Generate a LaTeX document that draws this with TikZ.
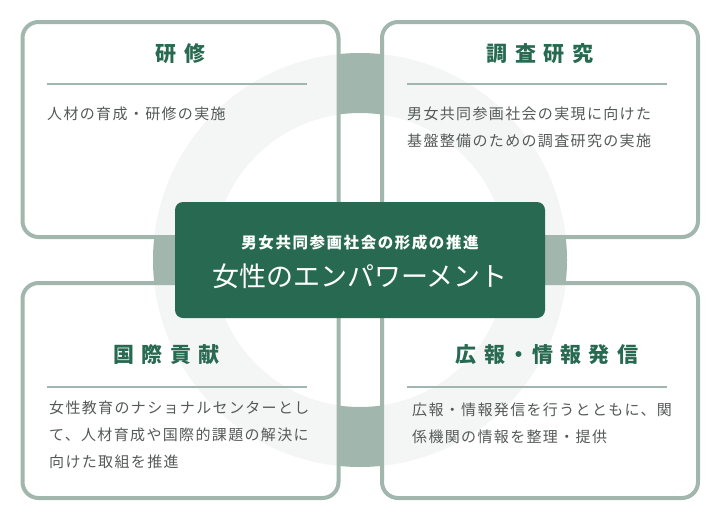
\documentclass[tikz,border=0pt]{standalone}
\usepackage{fontspec}
\setmainfont{Noto Sans CJK JP}
\newfontfamily\titlefont[LetterSpace=35]{Noto Sans CJK JP}
\newfontfamily\bodyfont[LetterSpace=9]{Noto Sans CJK JP}
\newfontfamily\leadfont[LetterSpace=10]{Noto Sans CJK JP}
\definecolor{ring}{HTML}{A1B6AD}
\definecolor{deepgreen}{HTML}{286A51}
\definecolor{bodygray}{HTML}{555A58}
\tikzset{
  panel/.style={draw=ring, line width=4pt, rounded corners=16pt, fill=white, fill opacity=0.88,
    minimum width=316pt, minimum height=215pt, inner sep=0pt},
  paneltitle/.style={text=deepgreen, font=\titlefont\bfseries\fontsize{21}{21}\selectfont},
  paneltext/.style={text=bodygray, font=\bodyfont\fontsize{15}{27}\selectfont, align=left,
    anchor=north west, inner sep=0pt},
  divider/.style={draw=ring, line width=2pt}
}
\begin{document}
\begin{tikzpicture}[x=1pt,y=-1pt]
\useasboundingbox (0,0) rectangle (720,520);
\draw[ring, line width=60pt] (360,260) circle[radius=177pt]; % ring
\node[panel] (kenshu) at (180.5,129.5) {};
\node[panel] (chosa) at (540,129.5) {};
\node[panel] (kokusai) at (180.5,390.5) {};
\node[panel] (koho) at (540,390.5) {};
\node[fill=deepgreen, rounded corners=8pt, minimum width=370pt, minimum height=116pt] (core) at (360,260) {};
\node[text=white, font=\leadfont\bfseries\fontsize{15.5}{15.5}\selectfont] (lead) at ([yshift=17pt]core.center) {男女共同参画社会の形成の推進};
\node[text=white, font=\fontsize{27}{27}\selectfont] (motto) at ([yshift=-16pt]core.center) {女性のエンパワーメント};
% 研修
\node[paneltitle] (kenshutitle) at ([yshift=-34pt]kenshu.north) {研修};
\draw[divider] (47,84) -- (307,84);
\node[paneltext] (kenshutext) at (47,106.5) {人材の育成・研修の実施};
% 調査研究
\node[paneltitle] (chosatitle) at ([yshift=-34pt]chosa.north) {調査研究};
\draw[divider] (407,84) -- (667,84);
\node[paneltext] (chosatext) at (407,106.5) {男女共同参画社会の実現に向けた\\基盤整備のための調査研究の実施};
% 国際貢献
\node[paneltitle] (kokusaititle) at ([xshift=-14pt,yshift=-74pt]kokusai.north) {国際貢献};
\draw[divider] (47,387) -- (307,387);
\node[paneltext] (kokusaitext) at (49,400.5) {女性教育のナショナルセンターとし\\て、人材育成や国際的課題の解決に\\向けた取組を推進};
% 広報・情報発信
\node[paneltitle] (kohotitle) at ([xshift=7pt,yshift=-74pt]koho.north) {広報\kern3pt・\kern3pt情報発信};
\draw[divider] (407,387) -- (667,387);
\node[paneltext] (kohotext) at (412,403) {広報・情報発信を行うとともに、関\\係機関の情報を整理・提供};
\end{tikzpicture}
\end{document}
